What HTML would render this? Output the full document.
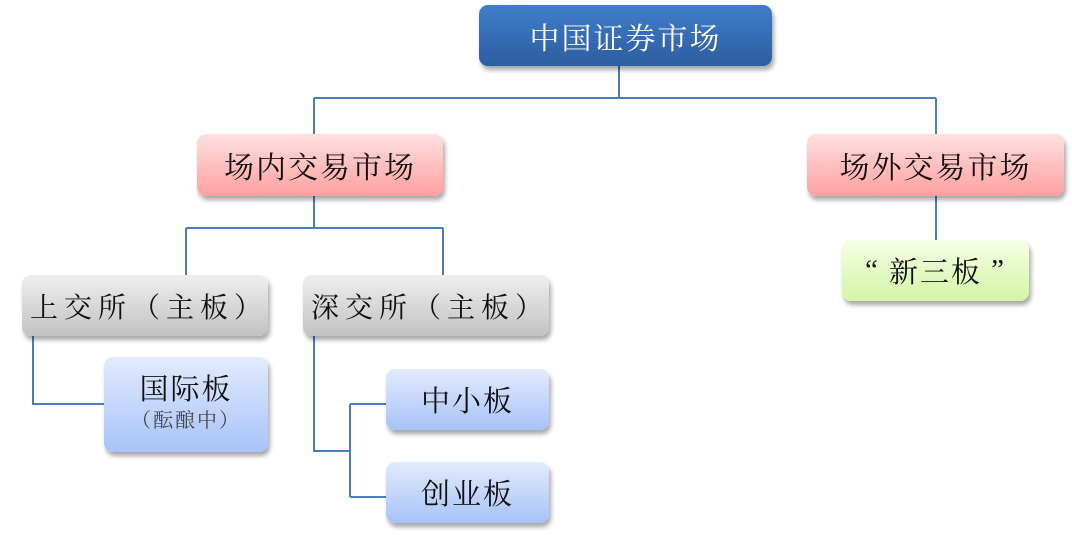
<!DOCTYPE html>
<html><head><meta charset="utf-8">
<style>
html,body{margin:0;padding:0;background:#fff;}
body{width:1072px;height:535px;position:relative;overflow:hidden;}
.b{position:absolute;box-sizing:border-box;border-radius:9px;display:flex;align-items:center;justify-content:center;
font-family:"Liberation Serif","Noto Serif CJK SC",serif;color:#111;box-shadow:2px 4px 5px rgba(0,0,0,0.35);white-space:nowrap;}
.top{background:linear-gradient(#3f7ecb,#2d5d9f);color:#fff;font-size:30px;letter-spacing:2px;}
.pink{background:linear-gradient(#ffe0e0,#ffa0a0);font-size:30px;letter-spacing:2px;}
.grey{background:linear-gradient(#efefef,#c2c2c2);font-size:28px;letter-spacing:2px;}
.blue{background:linear-gradient(#e3ebfd,#a7c3f8);font-size:29px;letter-spacing:2px;}
.green{background:linear-gradient(#f6ffe6,#d3f5a6);font-size:29px;letter-spacing:2px;}
.q{display:inline-block;width:24px;}
svg{position:absolute;left:0;top:0;}
</style></head><body>
<svg width="1072" height="535">
<g stroke="#4a7ebb" stroke-width="2" fill="none">
<path d="M619 66 V98 M314 98 H936 M314 98 V134 M936 98 V134"/>
<path d="M314 196 V228 M186 228 H443 M186 228 V275 M443 228 V275"/>
<path d="M936 196 V240"/>
<path d="M33 336 V404 H104"/>
<path d="M314 336 V451 H350 M350 404 V497 M350 404 H386 M350 497 H386"/>
</g>
</svg>
<div class="b top" style="left:479px;top:5px;width:293px;height:61px;">中国证券市场</div>
<div class="b pink" style="left:197px;top:134px;width:246px;height:62px;">场内交易市场</div>
<div class="b pink" style="left:807px;top:134px;width:257px;height:62px;">场外交易市场</div>
<div class="b grey" style="left:22px;top:275px;width:246px;height:61px;justify-content:flex-start;padding-left:8px;letter-spacing:6px;">上交所（主板）</div>
<div class="b grey" style="left:303px;top:275px;width:246px;height:61px;justify-content:flex-start;padding-left:8px;letter-spacing:6px;">深交所（主板）</div>
<div class="b blue" style="left:104px;top:357px;width:164px;height:95px;flex-direction:column;">
<div style="line-height:34px;margin-top:-2px;">国际板</div>
<div style="font-size:20px;letter-spacing:2px;color:#444;line-height:28px;">（酝酿中）</div>
</div>
<div class="b blue" style="left:386px;top:369px;width:163px;height:61px;">中小板</div>
<div class="b blue" style="left:386px;top:462px;width:163px;height:61px;">创业板</div>
<div class="b green" style="left:842px;top:240px;width:187px;height:61px;"><span class="q" style="text-align:left;">“</span>新三板<span class="q" style="text-align:right;">”</span></div>
</body></html>
